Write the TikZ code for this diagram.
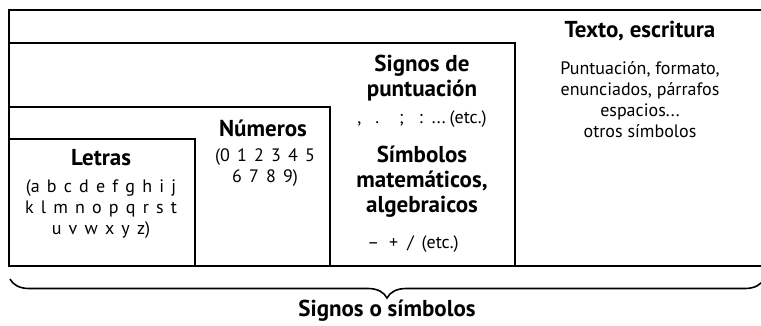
\documentclass[tikz,border=0pt]{standalone}
\usepackage{fontspec}
\setmainfont{PT Sans}
\usepackage{tikz}
\usetikzlibrary{decorations.pathreplacing}

\newcommand\espacioslargos{\spaceskip 0.4em\relax}
\tikzset{
  titulo/.style={font=\bfseries\fontsize{23}{25}\selectfont, align=center, inner sep=0pt},
  cuerpo/.style={font=\fontsize{18}{21}\selectfont, align=center, inner sep=0pt},
  espaciado/.style={cuerpo, font=\fontsize{18}{21}\selectfont\espacioslargos}
}

\begin{document}
\begin{tikzpicture}[x=1pt, y=-1pt, line width=1.6pt]
\useasboundingbox (0, 0) rectangle (761, 325);
% marcos anidados
\draw (761, 10) -- (9, 10) -- (9, 266) -- (761, 266);
\draw (9, 43) -- (515, 43) -- (515, 266);
\draw (9, 107) -- (330, 107) -- (330, 266);
\draw (9, 139) -- (195, 139) -- (195, 266);

% textos
\node[titulo] (texto) at (640, 31) {Texto, escritura};
\node[cuerpo] (textoej) at (640, 100) {Puntuación, formato,\\enunciados, párrafos\\espacios...\\otros símbolos};
\node[titulo] (puntuacion) at (422, 78) {Signos de\\puntuación};
\node[cuerpo] (puntuacionej) at (422, 119) {,\hspace{14pt}.\hspace{20pt};\hspace{15pt}:\hspace{9pt}...\hspace{4pt}(etc.)};
\node[titulo] (simbolos) at (422, 182) {Símbolos\\matemáticos,\\algebraicos};
\node[cuerpo] (simbolosej) at (413, 244) {–\hspace{10pt}+\hspace{9pt}/\hspace{8pt}(etc.)};
\node[titulo] (numeros) at (263, 128) {Números};
\node[espaciado] (numerosej) at (265, 168) {(0 1 2 3 4 5\\6 7 8 9)};
\node[titulo] (letras) at (101, 158) {Letras};
\node[espaciado] (letrasej) at (101, 209) {(a b c d e f g h i j\\k l m n o p q r s t\\u v w x y z)};

% llave inferior
\coordinate (llaveA) at (764, 279);
\coordinate (llaveB) at (10, 279);
\draw[decorate, decoration={brace, amplitude=19pt}] (llaveA) -- (llaveB);
\node[titulo] (signos) at (387, 311) {Signos o símbolos};
\end{tikzpicture}
\end{document}
